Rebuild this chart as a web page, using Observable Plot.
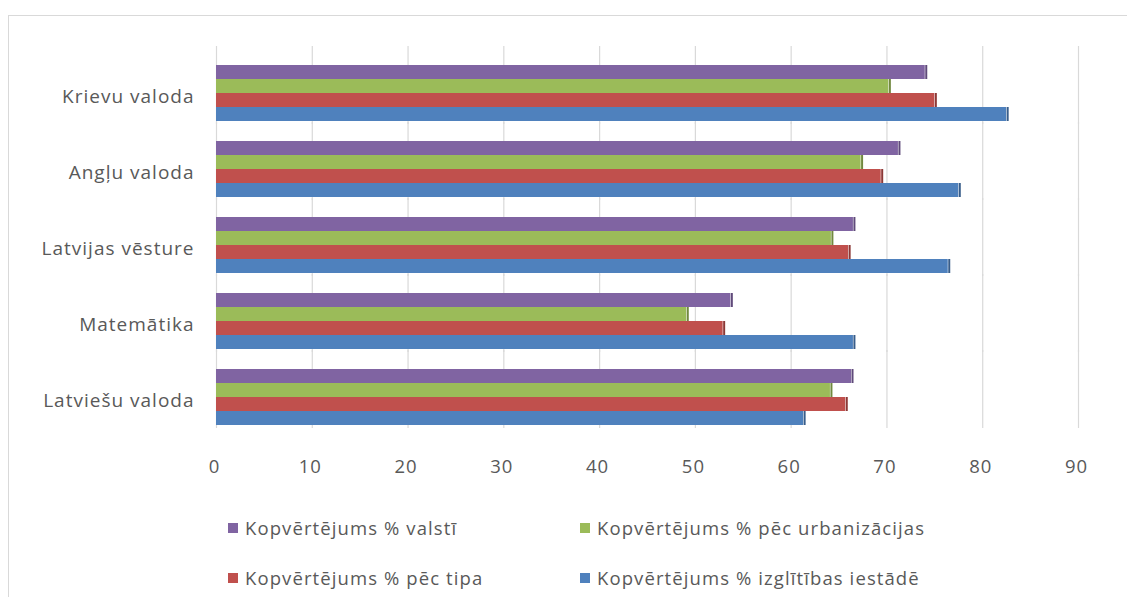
<!DOCTYPE html>
<html>
<head>
<meta charset="utf-8">
<script src="https://cdn.jsdelivr.net/npm/d3@7"></script>
<script src="https://cdn.jsdelivr.net/npm/@observablehq/plot@0.6"></script>
<style>
  html, body { margin: 0; padding: 0; background: #fff; }
  #wrap { position: relative; width: 1127px; height: 597px; overflow: hidden; font-family: "Open Sans", sans-serif; }
  #border { position: absolute; left: 8px; top: 15px; right: -2px; bottom: -2px; border-left: 1px solid #d9d9d9; border-top: 1px solid #d9d9d9; pointer-events: none; }
  #chart { position: absolute; left: 0; top: 0; }
  .leg { position: absolute; display: flex; align-items: center; font-size: 18.5px; letter-spacing: 1.1px; color: #595959; white-space: nowrap; }
  .leg span.sw { display: inline-block; width: 10px; height: 10px; margin-right: 7px; }
</style>
</head>
<body>
<div id="wrap">
  <div id="border"></div>
  <div id="chart"></div>
  <div id="legend"></div>
</div>
<script>
const categories = ["Krievu valoda", "Angļu valoda", "Latvijas vēsture", "Matemātika", "Latviešu valoda"];
const series = ["Kopvērtējums % valstī", "Kopvērtējums % pēc urbanizācijas", "Kopvērtējums % pēc tipa", "Kopvērtējums % izglītības iestādē"];
const valsti       = [74.0, 71.2, 66.5, 53.7, 66.3];
const urbanizacija = [70.2, 67.3, 64.2, 49.1, 64.1];
const tipa         = [75.0, 69.4, 66.0, 52.9, 65.7];
const iestade      = [82.5, 77.5, 76.4, 66.5, 61.3];
const colors = ["#8064A2", "#9BBB59", "#C0504D", "#4F81BD"];
const sideColors = ["#5f4a7a", "#71893f", "#8c3836", "#385d8a"];
const xTicks = [0, 10, 20, 30, 40, 50, 60, 70, 80, 90];

const seriesValues = [valsti, urbanizacija, tipa, iestade];
const data = [];
categories.forEach((c, i) => {
  series.forEach((s, j) => {
    data.push({category: c, series: s, value: seriesValues[j][i], side: sideColors[j]});
  });
});

const plot = Plot.plot({
  width: 1127,
  height: 490,
  marginTop: 63,
  marginBottom: 64,
  marginLeft: 216,
  marginRight: 49,
  style: {fontFamily: "'Open Sans', sans-serif", fontSize: "19px", color: "#595959", background: "transparent", letterSpacing: "1px"},
  x: {domain: [0, 90], ticks: xTicks, label: null},
  y: {domain: series, padding: 0, axis: null},
  fy: {domain: categories, padding: 0.25, label: null, axis: null},
  color: {domain: series, range: colors},
  marks: [
    Plot.ruleX(xTicks, {x: d => d, stroke: "#d9d9d9", strokeWidth: 1.2, insetTop: -18, insetBottom: -3}),
    Plot.barX(data, {x: "value", y: "series", fy: "category", fill: "series"}),
    Plot.tickX(data, {x: "value", y: "series", fy: "category", stroke: "side", strokeWidth: 2, dx: 1}),
    Plot.axisX({ticks: xTicks, tickSize: 0, tickPadding: 34, fill: "#595959", fontSize: 18.5, dx: -2}),
    Plot.axisFy({anchor: "left", tickSize: 0, tickPadding: 22, fill: "#595959", fontSize: 19, dy: 4, label: null})
  ]
});
document.getElementById("chart").appendChild(plot);

const legendPos = [
  {i: 0, left: 228, top: 515},
  {i: 1, left: 580, top: 515},
  {i: 2, left: 228, top: 565},
  {i: 3, left: 580, top: 565}
];
const leg = document.getElementById("legend");
legendPos.forEach(p => {
  const d = document.createElement("div");
  d.className = "leg";
  d.style.left = p.left + "px";
  d.style.top = p.top + "px";
  const sw = document.createElement("span");
  sw.className = "sw";
  sw.style.background = colors[p.i];
  d.appendChild(sw);
  d.appendChild(document.createTextNode(series[p.i]));
  leg.appendChild(d);
});
</script>
</body>
</html>
